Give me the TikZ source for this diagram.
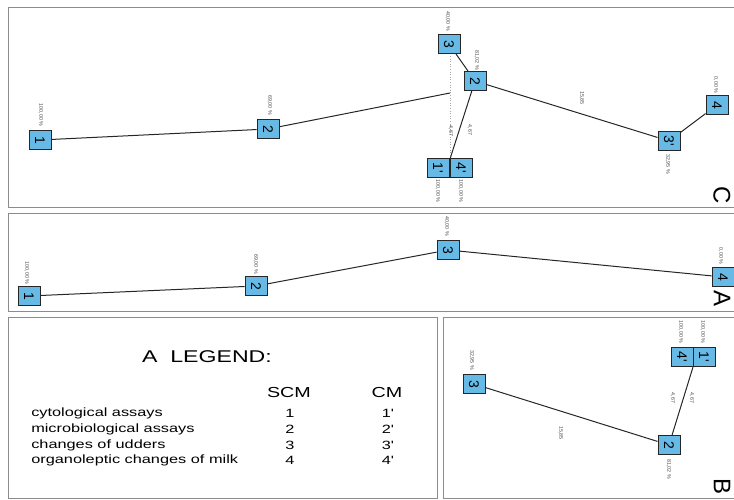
\documentclass[tikz,border=0pt]{standalone}
\usepackage{fontspec}
\setmainfont{Liberation Sans}
\definecolor{boxblue}{RGB}{104,186,230}
\definecolor{panelgray}{RGB}{140,140,140}
\newcommand{\pr}{\textquotesingle}
\begin{document}
\begin{tikzpicture}[x=1pt,y=-1pt,
  tr/.style={rotate=-90},
  bx/.style={tr,draw=black!85,line width=0.9pt,fill=boxblue,minimum width=19pt,minimum height=22pt,inner sep=0pt,font=\fontsize{14}{14}\selectfont},
  lbl/.style={tr,inner sep=0pt,font=\fontsize{5.3}{6}\selectfont,text=black!70},
  big/.style={tr,inner sep=0pt,font=\fontsize{24}{24}\selectfont},
  edge/.style={draw=black!85,line width=1pt},
  panel/.style={draw=panelgray,line width=0.9pt},
  legtxt/.style={xscale=1.36,inner sep=0pt,font=\fontsize{12}{13}\selectfont}]
\useasboundingbox (0,0) rectangle (734,500);
% panels
\draw[panel] (8,7) rectangle (740,207);
\draw[panel] (8,213) rectangle (740,311);
\draw[panel] (8,317) rectangle (437,498);
\draw[panel] (443,317) rectangle (740,498);

% ---------- panel C ----------
\draw[black!35,dotted,line width=0.6pt] (450,56) -- (450,158);
\node[bx] (c1) at (40,140) {1};
\node[bx] (c2) at (268,129) {2};
\node[bx] (c3) at (449,44) {3};
\node[bx] (c2b) at (475,81) {2};
\node[bx] (c1p) at (438,168) {1\pr};
\node[bx] (c4p) at (461,168) {4\pr};
\node[bx] (c3p) at (669,141) {3\pr};
\node[bx] (c4) at (717,105) {4};
\coordinate (cend) at (450,93);
\coordinate (cj) at (450,159);
\draw[edge] (c1) -- (c2);
\draw[edge] (c2) -- (cend);
\draw[edge] (c3) -- (c2b);
\draw[edge] (c2b) -- (cj);
\draw[edge] (c2b) -- (c3p);
\draw[edge] (c3p) -- (c4);
\node[lbl] (lc1) at (41,115) {100,00 \%};
\node[lbl] (lc2) at (270,105) {69,00 \%};
\node[lbl] (lc3) at (448,21) {40,00 \%};
\node[lbl] (lc2b) at (477,60) {81,02 \%};
\node[lbl] (le1) at (451,131) {4,67};
\node[lbl] (le2) at (470,130) {4,67};
\node[lbl] (le3) at (582,98) {15,85};
\node[lbl] (lc3p) at (668,164) {32,95 \%};
\node[lbl] (lc4) at (716,85) {0,00 \%};
\node[lbl] (lc1p) at (438,191) {100,00 \%};
\node[lbl] (lc4p) at (461,191) {100,00 \%};
\node[big] (tC) at (722,195) {C};

% ---------- panel A ----------
\node[bx] (a1) at (29,296) {1};
\node[bx] (a2) at (256,286) {2};
\node[bx] (a3) at (448,250) {3};
\node[bx] (a4) at (723,277) {4};
\draw[edge] (a1) -- (a2);
\draw[edge] (a2) -- (a3);
\draw[edge] (a3) -- (a4);
\node[lbl] (la1) at (27,273) {100,00 \%};
\node[lbl] (la2) at (256,264) {69,00 \%};
\node[lbl] (la3) at (447,226) {40,00 \%};
\node[lbl] (la4) at (721,256) {0,00 \%};
\node[big] (tA) at (722,299) {A};

% ---------- legend ----------
\node[legtxt,font=\fontsize{17}{17}\selectfont] (lt) at (207,357) {A\ \ LEGEND:};
\node[legtxt,font=\fontsize{14.5}{15}\selectfont] (hs) at (289,393) {SCM};
\node[legtxt,font=\fontsize{14.5}{15}\selectfont] (hc) at (387,393) {CM};
\foreach \y/\t/\a/\b [count=\i] in {413/cytological assays/1/1\pr,429/microbiological assays/2/2\pr,445/changes of udders/3/3\pr,460/organoleptic changes of milk/4/4\pr}{
  \node[legtxt,anchor=west] (r\i) at (31,\y) {\t};
  \node[legtxt] (s\i) at (290,\y) {\a};
  \node[legtxt] (m\i) at (388,\y) {\b};
}

% ---------- panel B ----------
\node[bx] (b3) at (474,384) {3};
\node[bx] (b2) at (669,445) {2};
\node[bx] (b4p) at (682,357) {4\pr};
\node[bx] (b1p) at (704,357) {1\pr};
\coordinate (bj) at (693,367);
\draw[edge] (b3) -- (b2);
\draw[edge] (b2) -- (bj);
\node[lbl] (lb3) at (472,360) {32,95 \%};
\node[lbl] (lb2) at (669,469) {81,02 \%};
\node[lbl] (lbe1) at (673,398) {4,67};
\node[lbl] (lbe2) at (692,398) {4,67};
\node[lbl] (lbe3) at (561,433) {15,85};
\node[lbl] (lb4p) at (681,332) {100,00 \%};
\node[lbl] (lb1p) at (703,332) {100,00 \%};
\node[big] (tB) at (722,487) {B};
\end{tikzpicture}
\end{document}
